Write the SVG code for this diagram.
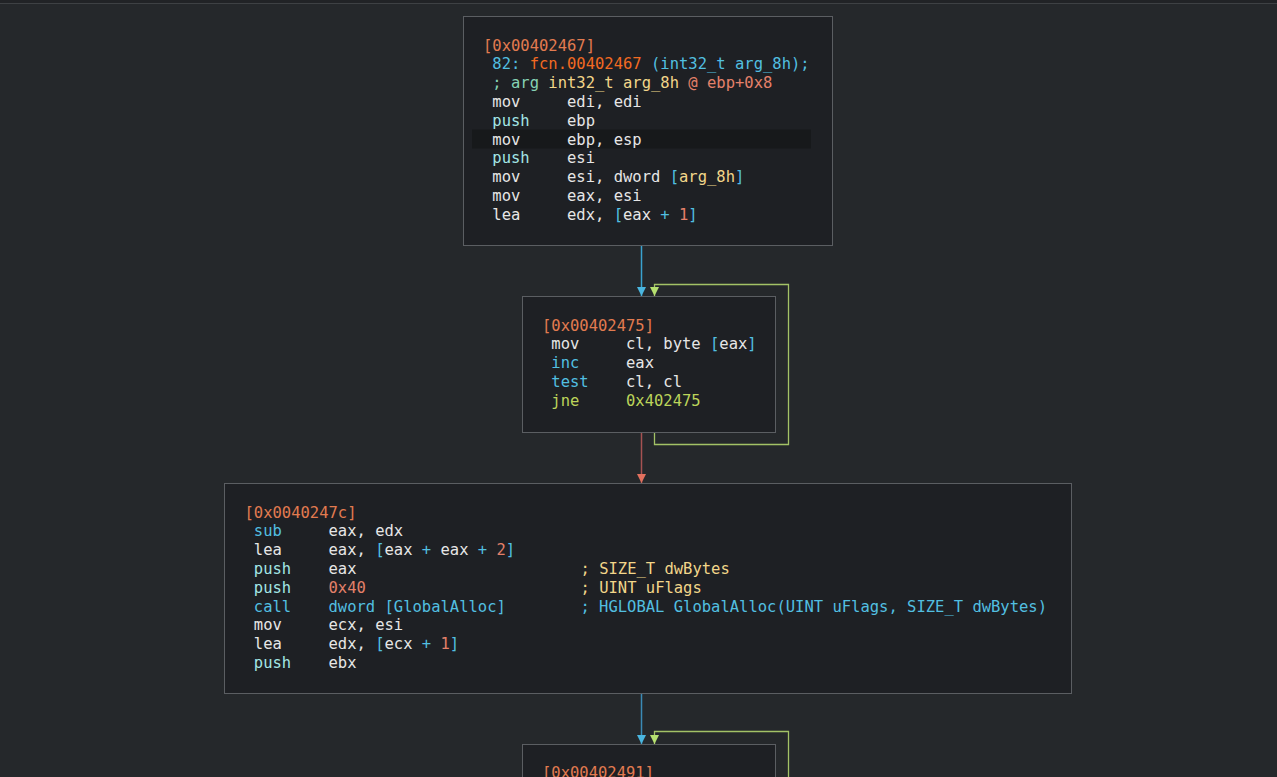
<svg xmlns="http://www.w3.org/2000/svg" width="1277" height="777" viewBox="0 0 1277 777">
<style>
.bg{fill:#25282b}
.node{fill:#1e2024;stroke:#5b5e62;stroke-width:1}
.hl{fill:#17191b}
text{font-family:"DejaVu Sans Mono","Liberation Mono",monospace;font-size:15.5px;fill:#e6e6e6;white-space:pre}
.ad{fill:#e27b50}
.cy{fill:#52bfe0}
.lc{fill:#a3e6e6}
.fn{fill:#f26a22}
.tl{fill:#86d2b4}
.yl{fill:#f2d68a}
.sa{fill:#e4806a}
.gr{fill:#bcd45a}
.e{fill:none;stroke-width:1.5}
.eb{stroke:#3aa2cf}
.eb2{stroke:#3b8ab5}
.eg{stroke:#a3c266;stroke-width:1.3}
.er{stroke:#a65252}
</style>
<defs>
<marker id="ab" viewBox="0 0 10 10" refX="10" refY="5" markerWidth="9" markerHeight="9" markerUnits="userSpaceOnUse" orient="auto"><path d="M0,0 L10,5 L0,10 z" fill="#4ab6e0"/></marker>
<marker id="ag" viewBox="0 0 10 10" refX="10" refY="5" markerWidth="9" markerHeight="9" markerUnits="userSpaceOnUse" orient="auto"><path d="M0,0 L10,5 L0,10 z" fill="#b6e070"/></marker>
<marker id="ar" viewBox="0 0 10 10" refX="10" refY="5" markerWidth="9" markerHeight="9" markerUnits="userSpaceOnUse" orient="auto"><path d="M0,0 L10,5 L0,10 z" fill="#e2705e"/></marker>
</defs>
<rect class="bg" x="0" y="0" width="1277" height="777"/>
<rect x="0" y="0" width="1277" height="3" fill="#212326"/>
<line x1="0" y1="3.5" x2="1277" y2="3.5" stroke="#3e4144" stroke-width="1"/>

<g id="connectors">
<line class="e eb" x1="641.5" y1="246" x2="641.5" y2="296" marker-end="url(#ab)"/>
<polyline class="e eg" points="654.5,432 654.5,444.5 788.5,444.5 788.5,284.5 654.5,284.5 654.5,296" marker-end="url(#ag)"/>
<line class="e er" x1="641.5" y1="432" x2="641.5" y2="483" marker-end="url(#ar)"/>
<line class="e eb2" x1="641.5" y1="693" x2="641.5" y2="744" marker-end="url(#ab)"/>
<polyline class="e eg" points="788.5,777 788.5,731.5 654.5,731.5 654.5,744" marker-end="url(#ag)"/>
</g>

<g id="node-0x00402467">
<rect class="node" x="463.5" y="16.5" width="369" height="229"/>
<rect class="hl" x="472" y="129.5" width="339" height="19"/>
<text x="483" y="50.5" class="ad">[0x00402467]</text>
<text x="483" y="69.3"><tspan class="cy"> 82: </tspan><tspan class="fn">fcn.00402467</tspan><tspan class="cy"> (int32_t arg_8h);</tspan></text>
<text x="483" y="88.1"><tspan class="tl"> ; arg </tspan><tspan class="yl">int32_t arg_8h</tspan><tspan class="sa"> @ ebp+0x8</tspan></text>
<text x="483" y="106.9"> mov     edi, edi</text>
<text x="483" y="125.7"><tspan class="lc"> push</tspan>    ebp</text>
<text x="483" y="144.5"> mov     ebp, esp</text>
<text x="483" y="163.3"><tspan class="lc"> push</tspan>    esi</text>
<text x="483" y="182.1"> mov     esi, dword <tspan class="cy">[</tspan><tspan class="yl">arg_8h</tspan><tspan class="cy">]</tspan></text>
<text x="483" y="200.9"> mov     eax, esi</text>
<text x="483" y="219.7"> lea     edx, <tspan class="cy">[</tspan>eax<tspan class="cy"> + </tspan><tspan class="sa">1</tspan><tspan class="cy">]</tspan></text>
</g>

<g id="node-0x00402475">
<rect class="node" x="522.5" y="296.5" width="253" height="136"/>
<text x="542" y="330.5" class="ad">[0x00402475]</text>
<text x="542" y="349.3"> mov     cl, byte <tspan class="cy">[</tspan>eax<tspan class="cy">]</tspan></text>
<text x="542" y="368.1"><tspan class="cy"> inc</tspan>     eax</text>
<text x="542" y="386.9"><tspan class="cy"> test</tspan>    cl, cl</text>
<text x="542" y="405.7"><tspan class="gr"> jne</tspan>     <tspan class="gr">0x402475</tspan></text>
</g>

<g id="node-0x0040247c">
<rect class="node" x="224.5" y="483.5" width="847" height="210"/>
<text x="244.5" y="517.5" class="ad">[0x0040247c]</text>
<text x="244.5" y="536.3"><tspan class="cy"> sub</tspan>     eax, edx</text>
<text x="244.5" y="555.1"> lea     eax, <tspan class="cy">[</tspan>eax<tspan class="cy"> + </tspan>eax<tspan class="cy"> + </tspan><tspan class="sa">2</tspan><tspan class="cy">]</tspan></text>
<text x="244.5" y="573.9"><tspan class="lc"> push</tspan>    eax                       <tspan class="yl"> ; SIZE_T dwBytes</tspan></text>
<text x="244.5" y="592.7"><tspan class="lc"> push</tspan>    <tspan class="sa">0x40</tspan>                      <tspan class="yl"> ; UINT uFlags</tspan></text>
<text x="244.5" y="611.5"><tspan class="cy"> call    dword [GlobalAlloc]        ; HGLOBAL GlobalAlloc(UINT uFlags, SIZE_T dwBytes)</tspan></text>
<text x="244.5" y="630.3"> mov     ecx, esi</text>
<text x="244.5" y="649.1"> lea     edx, <tspan class="cy">[</tspan>ecx<tspan class="cy"> + </tspan><tspan class="sa">1</tspan><tspan class="cy">]</tspan></text>
<text x="244.5" y="667.9"><tspan class="lc"> push</tspan>    ebx</text>
</g>

<g id="node-0x00402491">
<rect class="node" x="522.5" y="744.5" width="253" height="60"/>
<text x="542" y="778" class="ad">[0x00402491]</text>
</g>
</svg>
